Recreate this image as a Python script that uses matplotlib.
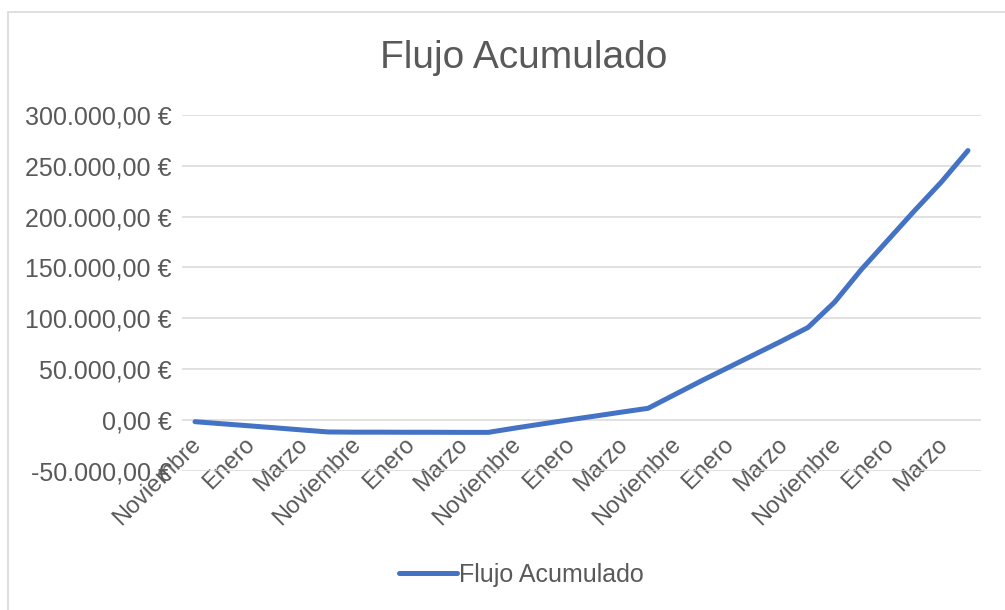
import matplotlib.pyplot as plt
import matplotlib.transforms as mtransforms
from matplotlib.patches import Rectangle
from matplotlib.ticker import FuncFormatter

plt.rcParams['font.family'] = ['Liberation Sans', 'DejaVu Sans']

# meses (noviembre - abril) de cinco temporadas
meses = ['Noviembre', 'Diciembre', 'Enero', 'Febrero', 'Marzo', 'Abril'] * 5

flujo = [-1700, -3700, -5700, -7700, -9800, -11800,
         -12000, -12000, -12100, -12100, -12200, -12200,
         -8000, -4000, 0, 3800, 7700, 11500,
         25000, 38500, 51500, 64500, 77500, 91000,
         116000, 148000, 177000, 206000, 234000, 265000]

y_ticks = [-50000, 0, 50000, 100000, 150000, 200000, 250000, 300000]

gris = '#595959'
azul = '#4472C4'

def euros(v, pos=None):
    s = f'{v:,.2f}'.replace(',', 'X').replace('.', ',').replace('X', '.')
    return s + ' €'

fig = plt.figure(figsize=(10.05, 6.1), dpi=100)
fig.patches.append(Rectangle((0.008, -0.05), 1.1, 1.03, transform=fig.transFigure,
                             fill=False, edgecolor='#d9d9d9', linewidth=1.2))

ax = fig.add_axes([0.1808, 0.2282, 0.7956, 0.5833])

x = list(range(len(flujo)))
ax.plot(x, flujo, color=azul, linewidth=3.6, solid_capstyle='round',
        solid_joinstyle='round', label='Flujo Acumulado')

ax.set_xlim(-0.5, len(flujo) - 0.5)
ax.set_ylim(-50000, 300000)
ax.set_yticks(y_ticks)
ax.yaxis.set_major_formatter(FuncFormatter(euros))
ax.grid(axis='y', color='#d9d9d9', linewidth=1.1)
ax.set_axisbelow(True)

for s in ax.spines.values():
    s.set_visible(False)
ax.spines['bottom'].set_position(('data', 0))

ax.set_xticks(x[::2])
ax.set_xticklabels(meses[::2], rotation=45, ha='right', va='top',
                   rotation_mode='anchor')
ax.tick_params(axis='x', length=0, pad=9.5, labelsize=17, labelcolor=gris)
ax.tick_params(axis='y', length=0, pad=7, labelsize=18, labelcolor=gris)

# desplazar un poco las etiquetas a la izquierda
desp = mtransforms.ScaledTranslation(-5 / 100, 0, fig.dpi_scale_trans)
for lbl in ax.get_xticklabels():
    lbl.set_transform(lbl.get_transform() + desp)

fig.text(0.521, 1 - 58 / 610, 'Flujo Acumulado', ha='center', va='center',
         fontsize=28, color=gris)

fig.legend(loc='center', bbox_to_anchor=(0.519, 0.057), frameon=False,
           fontsize=18, handlelength=2.3, handletextpad=0.1,
           labelcolor=gris)

fig.savefig('out.png', dpi=100)
